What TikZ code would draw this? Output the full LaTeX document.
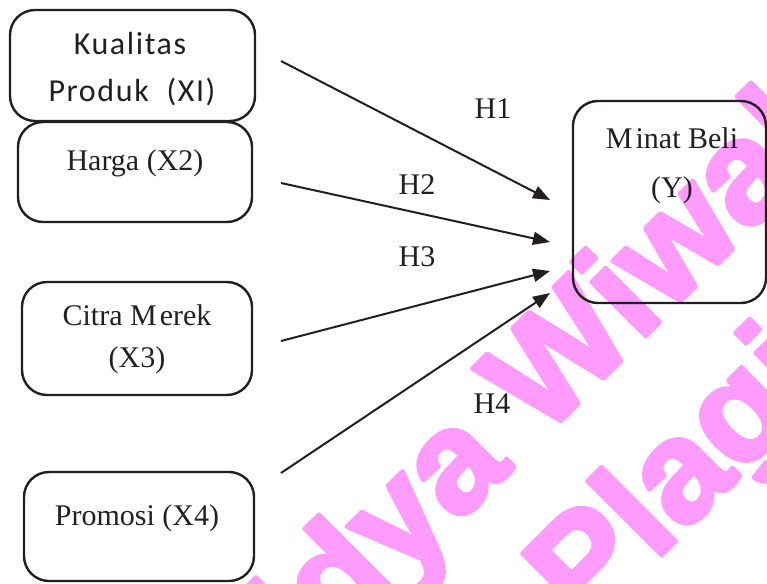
\documentclass[tikz,border=0pt]{standalone}
\usepackage{fontspec}
\usetikzlibrary{arrows.meta}
\setmainfont{Liberation Serif}
\newfontfamily\calfont{Carlito}
\newfontfamily\wmfont[FakeBold=3]{Liberation Sans}
\definecolor{ink}{RGB}{35,31,32}
\definecolor{wmpink}{RGB}{255,155,252}
\begin{document}
\begin{tikzpicture}[x=1pt,y=-1pt,line join=round,
  box/.style={draw=ink,line width=2.4pt,rounded corners=25pt,inner sep=0pt},
  lbl/.style={text=ink,font=\fontsize{30}{36}\selectfont,inner sep=0pt,anchor=base},
  slbl/.style={text=ink,font=\calfont\addfontfeatures{LetterSpace=5}\fontsize{32}{38}\selectfont,inner sep=0pt,anchor=base},
  link/.style={draw=ink,line width=2pt,-{Triangle[length=17pt,width=13pt]}},
  wm/.style={text=wmpink,font=\wmfont\bfseries\fontsize{145}{170}\selectfont,rotate=45,anchor=base west,inner sep=0pt}]
\useasboundingbox (0,0) rectangle (767,583);
\clip (0,0) rectangle (767,583);

% watermark, laid under the diagram
\node[wm] (wm1) at (213,769) {Widya Wiwaha};
\node[wm] (wm2) at (586,631) {Plagiarism};

% variable boxes
\node[box,minimum width=245pt,minimum height=111pt] (kp) at (132.5,65.5) {};
\node[box,minimum width=234pt,minimum height=100pt] (hg) at (135,172) {};
\node[box,minimum width=230pt,minimum height=113pt] (cm) at (137,338.5) {};
\node[box,minimum width=230pt,minimum height=109pt] (pr) at (139,526.5) {};
\node[box,minimum width=193pt,minimum height=202pt] (mb) at (669.5,202) {};

% box texts
\node[slbl] (kp1) at (130,55) {Kualitas};
\node[slbl] (kp2) at (132,102) {Produk~~(XI)};
\node[lbl] (hg1) at (135,170) {Harga (X2)};
\node[lbl] (cm1) at (137,325) {Citra M\kern3pt erek};
\node[lbl] (cm2) at (137,367) {(X3)};
\node[lbl] (pr1) at (137,525) {Promosi (X4)};
\node[lbl] (mb1) at (672,148) {M\kern3pt inat Beli};
\node[lbl] (mb2) at (672,197) {(Y)};

% hypothesis paths
\coordinate (s1) at (281,61);  \coordinate (t1) at (550,200);
\coordinate (s2) at (281,183); \coordinate (t2) at (550,242);
\coordinate (s3) at (281,341); \coordinate (t3) at (550,271);
\coordinate (s4) at (281,473); \coordinate (t4) at (550,293);
\draw[link] (s1) -- (t1);
\draw[link] (s2) -- (t2);
\draw[link] (s3) -- (t3);
\draw[link] (s4) -- (t4);

\node[lbl] (h1) at (493,118) {H1};
\node[lbl] (h2) at (417,194) {H2};
\node[lbl] (h3) at (417,266) {H3};
\node[lbl] (h4) at (492,413) {H4};
\end{tikzpicture}
\end{document}
